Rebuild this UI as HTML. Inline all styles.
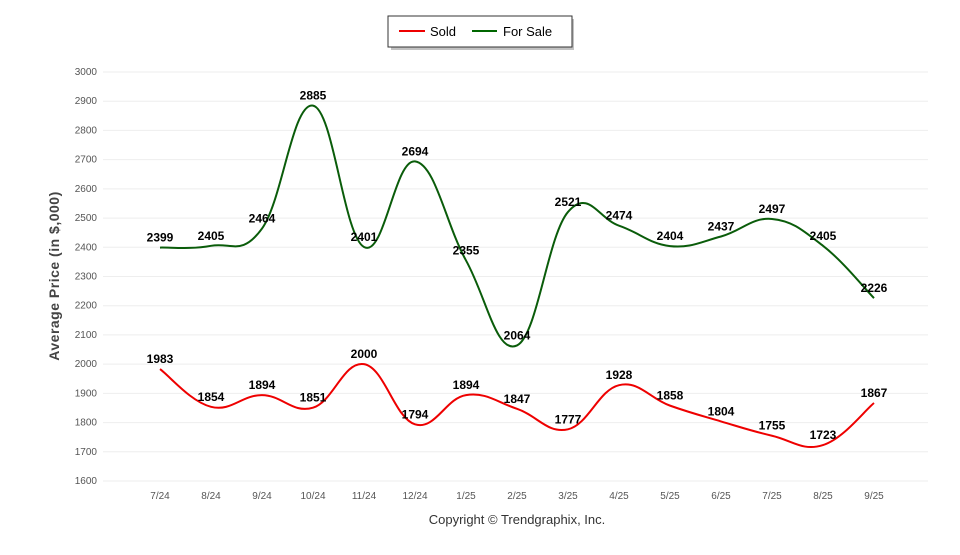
<!DOCTYPE html>
<html><head><meta charset="utf-8"><style>
body{margin:0;background:#fff;font-family:"Liberation Sans",Arial,sans-serif}
</style></head><body>
<svg id="c" width="960" height="550" xmlns="http://www.w3.org/2000/svg">
<g>
<rect x="391" y="19" width="183" height="31" fill="#999" opacity="0.6"/>
<rect x="388" y="16" width="184" height="31" fill="#fff" stroke="#333" stroke-width="1"/>
<line x1="399" y1="31" x2="425" y2="31" stroke="#e00" stroke-width="2"/>
<text x="430" y="36" font-size="13" fill="#000">Sold</text>
<line x1="472" y1="31" x2="497" y2="31" stroke="#060" stroke-width="2"/>
<text x="503" y="36" font-size="13" fill="#000">For Sale</text>
</g>
<text transform="translate(59,276) rotate(-90)" text-anchor="middle" font-size="14" font-weight="bold" fill="#444" letter-spacing="0.5">Average Price (in $,000)</text>
<text x="517" y="524" text-anchor="middle" font-size="13" fill="#333">Copyright © Trendgraphix, Inc.</text>
<g id="grid"></g><g id="series"></g><g id="labels"></g>
</svg>
<script>
const categories=["7/24","8/24","9/24","10/24","11/24","12/24","1/25","2/25","3/25","4/25","5/25","6/25","7/25","8/25","9/25"];
const soldValues=[1983,1854,1894,1851,2000,1794,1894,1847,1777,1928,1858,1804,1755,1723,1867];
const forSaleValues=[2399,2405,2464,2885,2401,2694,2355,2064,2521,2474,2404,2437,2497,2405,2226];
const yTicks=[1600,1700,1800,1900,2000,2100,2200,2300,2400,2500,2600,2700,2800,2900,3000];
const NS="http://www.w3.org/2000/svg";
const yMin=1600,yMax=3000,yTop=72,yBot=481;
const x=i=>160+i*(874-160)/(categories.length-1);
const y=v=>yBot-(v-yMin)/(yMax-yMin)*(yBot-yTop);
function mk(t,a,p){const e=document.createElementNS(NS,t);for(const k in a)e.setAttribute(k,a[k]);p.appendChild(e);return e;}
const grid=document.getElementById('grid');
yTicks.forEach(v=>{
 const l=mk('line',{x1:103,x2:928,y1:y(v),y2:y(v),stroke:'#eeeeee','stroke-width':1},grid);
 
 
 const t=mk('text',{x:97,y:y(v)+3,'text-anchor':'end','font-size':10,fill:'#555'},grid);
 t.textContent=v;
 
 
});
categories.forEach((c,i)=>{
 const t=mk('text',{x:x(i),y:499,'text-anchor':'middle','font-size':10,fill:'#555'},grid);
 t.textContent=c;
 
 
});
function path(vals){
 const p=vals.map((v,i)=>[x(i),y(v)]);
 let d='M'+p[0][0]+','+p[0][1];
 const k=0.2;
 for(let i=0;i<p.length-1;i++){
  const p0=p[i-1]||p[i],p1=p[i],p2=p[i+1],p3=p[i+2]||p2;
  const c1=[p1[0]+(p2[0]-p0[0])*k,p1[1]+(p2[1]-p0[1])*k];
  const c2=[p2[0]-(p3[0]-p1[0])*k,p2[1]-(p3[1]-p1[1])*k];
  d+=' C'+c1+' '+c2+' '+p2;
 }
 return d;
}
const s=document.getElementById('series'),lb=document.getElementById('labels');
[[forSaleValues,'#0a5c0a','for-sale'],[soldValues,'#e00','sold']].forEach(([vals,col,n])=>{
 const e=mk('path',{d:path(vals),fill:'none',stroke:col,'stroke-width':2},s);
 
 
 vals.forEach((v,i)=>{
  const t=mk('text',{x:x(i),y:y(v)-6,'text-anchor':'middle','font-size':12,'font-weight':'bold',fill:'#000'},lb);
  t.textContent=v;
  
  
 });
});
</script>
</body></html>
